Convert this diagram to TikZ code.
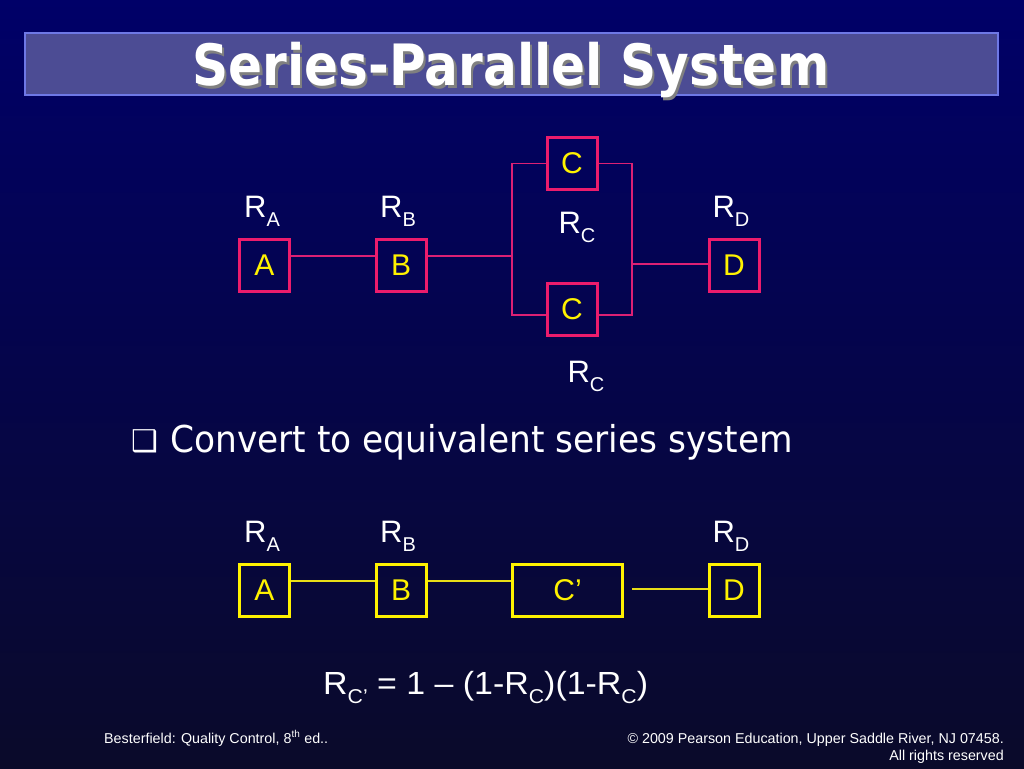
\documentclass[tikz,border=0pt]{standalone}
\usepackage{fontspec}
\setmainfont{Liberation Sans}
\newfontfamily\tahoma{DejaVu Sans}
\usetikzlibrary{positioning}
\definecolor{bgtop}{RGB}{0,0,104}
\definecolor{bgbot}{RGB}{10,10,42}
\definecolor{titlefill}{RGB}{76,76,148}
\definecolor{titleline}{RGB}{110,120,230}
\definecolor{boxpink}{RGB}{236,28,108}
\definecolor{wirepink}{RGB}{220,32,116}
\newcommand{\sub}[1]{\raisebox{-9pt}{\fontsize{20}{20}\selectfont #1}}
\newcommand{\shadowed}[1]{\makebox[0pt][l]{\hspace{2.5pt}\raisebox{-3pt}{\textcolor{black!50}{#1}}}\textcolor{white}{#1}}
\tikzset{
  blk/.style={draw=boxpink, line width=3pt, minimum width=50pt, minimum height=52pt,
    inner sep=0pt, text=yellow, font=\fontsize{30}{30}\selectfont},
  yblk/.style={blk, draw=yellow},
  wire/.style={draw=wirepink, line width=1.3pt},
  ywire/.style={wire, draw=yellow!90!black},
  rlab/.style={anchor=base, text=white, inner sep=0pt, font=\fontsize{31}{31}\selectfont},
  foot/.style={text=white, inner sep=0pt, font=\fontsize{14.3}{14.3}\selectfont},
}
\begin{document}
\begin{tikzpicture}[x=1pt,y=-1pt]
    \shade[top color=bgtop, bottom color=bgbot] (0,0) rectangle (1024,768);
    \useasboundingbox (0,0) rectangle (1024,768);
    \draw[titleline, fill=titlefill, line width=1.2pt] (25,33) rectangle (998,95);
    \node[anchor=base, inner sep=0pt, font=\tahoma\bfseries\fontsize{57}{57}\selectfont]
        (ttl) at (511,85) {\scalebox{0.88}[1]{\shadowed{Series-Parallel System}}};

    \node[blk] (A) at (264.5,265.5) {A};
    \node[blk] (B) at (401,265.5) {B};
    \node[blk] (Ct) at (572,163.5) {C};
    \node[blk] (Cb) at (572,309) {C};
    \node[blk] (D) at (734,265.5) {D};
    \coordinate (jl) at (512,256);
    \coordinate (jr) at (632,264);
    \draw[wire] ([yshift=9.5pt]A.east) -- ([yshift=9.5pt]B.west);
    \draw[wire] ([yshift=9.5pt]B.east) -- (jl);
    \draw[wire] (Ct.west) -| (jl) |- ([yshift=-6pt]Cb.west);
    \draw[wire] (Ct.east) -| (jr) |- ([yshift=-6pt]Cb.east);
    \draw[wire] (jr) -- (jr -| D.west);
    \foreach \n/\x in {A/262, B/398, D/731}
    {
        \node[rlab] (r\n) at (\x,217) {R\sub{\n}};
    }
    \node[rlab] (rCt) at (577,233) {R\sub{C}};
    \node[rlab] (rCb) at (586,382) {R\sub{C}};

    \node[inner sep=0pt, text=white, font=\tahoma\fontsize{30}{30}\selectfont] (bul) at (145,441) {❑};
    \node[anchor=base west, inner sep=0pt, text=white, font=\tahoma\fontsize{37}{37}\selectfont]
        (conv) at (170,452) {\scalebox{0.93}[1]{Convert to equivalent series system}};

    \node[yblk] (A2) at (264.5,590.5) {A};
    \node[yblk] (B2) at (401,590.5) {B};
    \node[yblk, minimum width=110pt] (C2) at (567.5,590.5) {C’};
    \node[yblk] (D2) at (734,590.5) {D};
    \draw[ywire] ([yshift=9.5pt]A2.east) -- ([yshift=9.5pt]B2.west);
    \draw[ywire] ([yshift=9.5pt]B2.east) -- ([yshift=9.5pt]C2.west);
    \draw[ywire] ([xshift=8pt,yshift=1.5pt]C2.east) -- ([yshift=1.5pt]D2.west);
    \foreach \n/\x in {A/262, B/398, D/731}
    {
        \node[rlab] (s\n) at (\x,542) {R\sub{\n}};
    }

    \node[anchor=base west, inner sep=0pt, text=white, font=\fontsize{32}{32}\selectfont]
        (eq) at (323,694) {\scalebox{1.06}[1]{R\sub{C’} = 1 – (1-R\sub{C})(1-R\sub{C})}};

    \node[foot, anchor=base west] (src) at (104,743) {Besterfield: Quality Control, 8\textsuperscript{th} ed..};
    \node[foot, anchor=base east] (cpy) at (1004,743) {© 2009 Pearson Education, Upper Saddle River, NJ 07458.};
    \node[foot, anchor=base east] (rts) at (1004,760) {All rights reserved};
\end{tikzpicture}
\end{document}
